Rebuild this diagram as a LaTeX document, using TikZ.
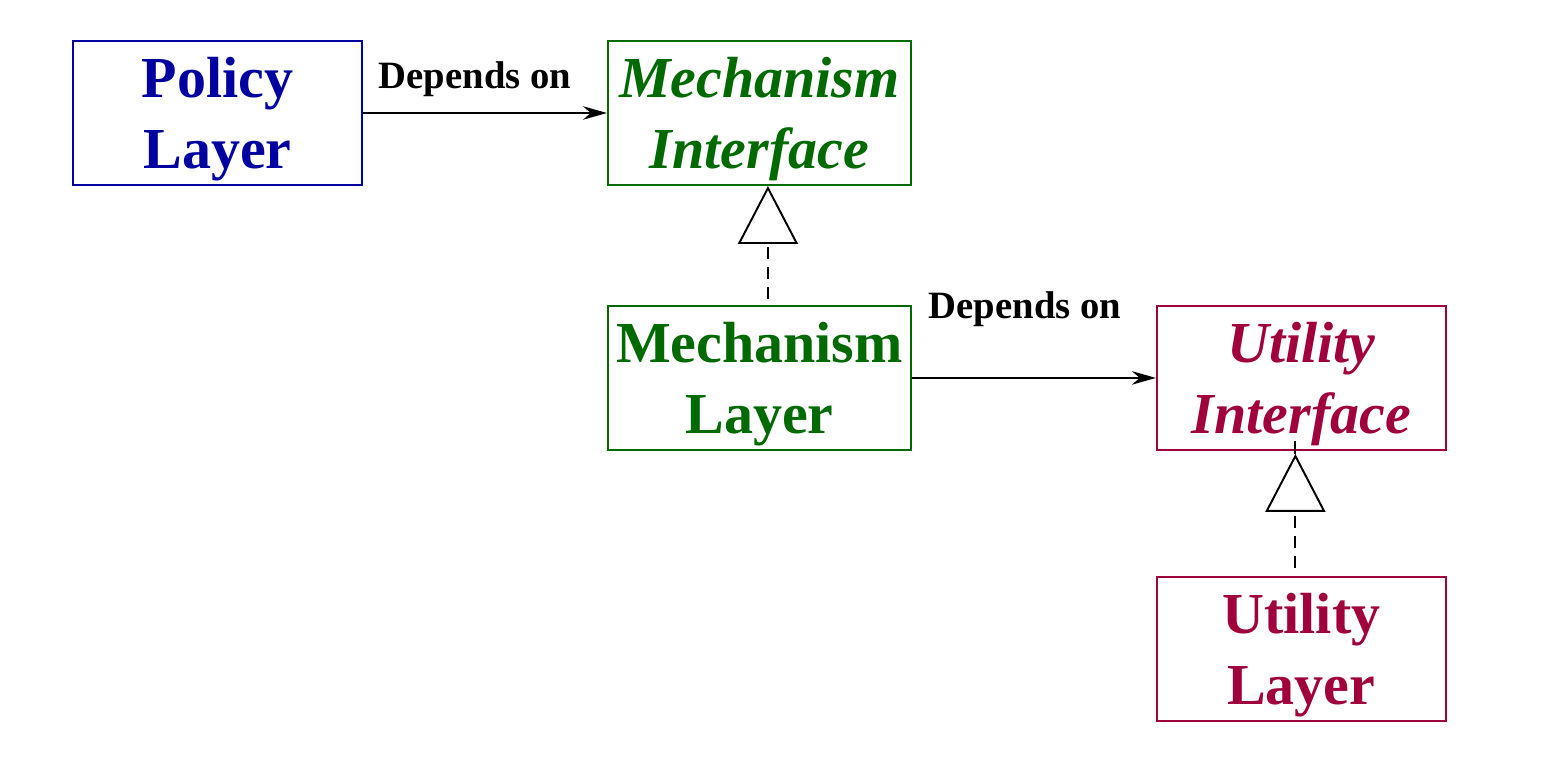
\documentclass[tikz,border=0pt]{standalone}
\usepackage{fontspec}
\setmainfont{Liberation Serif}
\usetikzlibrary{arrows.meta}
\usetikzlibrary{positioning}
\definecolor{policyblue}{RGB}{0,0,160}
\definecolor{mechgreen}{RGB}{0,105,0}
\definecolor{utilred}{RGB}{160,0,60}
\tikzset{layer/.style={draw, line width=1.1pt, minimum width=5.78cm, minimum height=2.88cm, inner xsep=2pt, text depth=0pt, align=center, font=\fontsize{33}{40}\selectfont\bfseries}}
\tikzset{iface/.style={layer, font=\fontsize{33}{40}\selectfont\bfseries\itshape}}
\tikzset{depends/.style={-{Stealth[length=0.48cm,width=0.27cm]}, line width=1.1pt}}
\tikzset{realizes/.style={-{Triangle[open,length=1.16cm,width=1.2cm]}, line width=1.1pt, dash pattern=on 0.24cm off 0.16cm}}
\tikzset{dlabel/.style={font=\fontsize{22}{26}\selectfont\bfseries, anchor=base}}
\begin{document}
\begin{tikzpicture}
\useasboundingbox (0,0) rectangle (30.9,-15.24);
% layers and interfaces
\node[layer, policyblue] (policy) at (4.35,-2.26) {Policy\\Layer};
\node[iface, mechgreen, minimum width=6.06cm, right=4.88cm of policy] (mechiface) {Mechanism\\Interface};
\node[layer, mechgreen, minimum width=6.06cm, below=2.38cm of mechiface] (mechlayer) {Mechanism\\Layer};
\node[iface, utilred, right=4.88cm of mechlayer] (utiliface) {Utility\\Interface};
\node[layer, utilred, below=2.5cm of utiliface] (utillayer) {Utility\\Layer};
% depends on
\draw[depends] (policy) -- node[dlabel, yshift=0.5cm, xshift=-0.2cm] {Depends on} (mechiface);
\draw[depends] (mechlayer) -- node[dlabel, yshift=1.18cm, xshift=-0.18cm] {Depends on} (utiliface);
% realizations
\draw[realizes, shorten <=0.12cm] ([xshift=0.17cm]mechlayer.north) -- ([xshift=0.17cm]mechiface.south);
\draw[realizes, shorten <=0.16cm, shorten >=0.06cm] ([xshift=-0.12cm]utillayer.north) -- ([xshift=-0.12cm]utiliface.south);
\draw[line width=1.1pt] ([xshift=-0.12cm,yshift=-0.06cm]utiliface.south) -- ++(0,0.26);
\end{tikzpicture}
\end{document}
